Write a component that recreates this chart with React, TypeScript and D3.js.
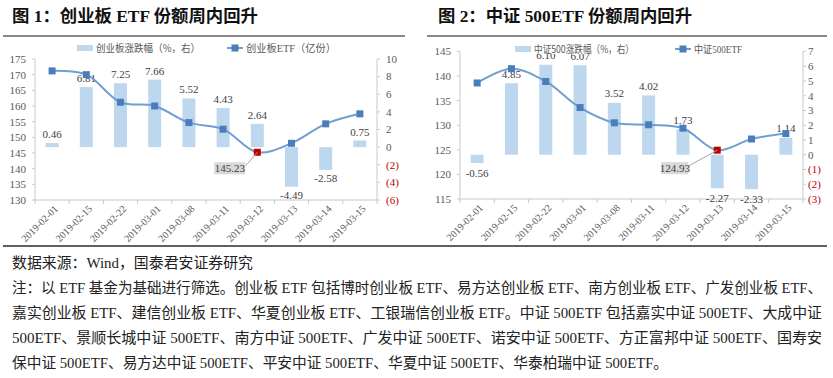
import React from "react";
import * as d3 from "d3";

const dates = [
  "2019-02-01", "2019-02-15", "2019-02-22", "2019-03-01", "2019-03-08",
  "2019-03-11", "2019-03-12", "2019-03-13", "2019-03-14", "2019-03-15",
];

// Chart 1: 创业板
const cybChange = [0.46, 6.81, 7.25, 7.66, 5.52, 4.43, 2.64, -4.49, -2.58, 0.75];
const cybShares = [171.2, 170.0, 161.2, 160.0, 154.7, 152.6, 145.23, 148.1, 154.3, 157.5];
const cybLeftTicks = [130, 135, 140, 145, 150, 155, 160, 165, 170, 175];
const cybRightTicks = [-6, -4, -2, 0, 2, 4, 6, 8, 10];

// Chart 2: 中证500
const zzChange = [-0.56, 4.85, 6.1, 6.07, 3.52, 4.02, 1.73, -2.27, -2.33, 1.14];
const zzShares = [138.6, 141.5, 138.9, 133.6, 130.5, 130.1, 129.4, 124.93, 127.2, 128.3];
const zzLeftTicks = [115, 120, 125, 130, 135, 140, 145];
const zzRightTicks = [-3, -2, -1, 0, 1, 2, 3, 4, 5, 6, 7];

const titles = ["图 1：创业板 ETF 份额周内回升", "图 2：中证 500ETF 份额周内回升"];
const legendBar = ["创业板涨跌幅（%，右）", "中证500涨跌幅（%，右）"];
const legendLine = ["创业板ETF（亿份）", "中证500ETF"];

const noteLines = [
  "数据来源：Wind，国泰君安证券研究",
  "注：以 ETF 基金为基础进行筛选。创业板 ETF 包括博时创业板 ETF、易方达创业板 ETF、南方创业板 ETF、广发创业板 ETF、",
  "嘉实创业板 ETF、建信创业板 ETF、华夏创业板 ETF、工银瑞信创业板 ETF。中证 500ETF 包括嘉实中证 500ETF、大成中证",
  "500ETF、景顺长城中证 500ETF、南方中证 500ETF、广发中证 500ETF、诺安中证 500ETF、方正富邦中证 500ETF、国寿安",
  "保中证 500ETF、易方达中证 500ETF、平安中证 500ETF、华夏中证 500ETF、华泰柏瑞中证 500ETF。",
];

const SERIF = "'Liberation Serif','Times New Roman',serif";
const MIX = "'Liberation Serif','Noto Sans CJK SC',serif";
const CJK = "'Noto Sans CJK SC','Liberation Sans',sans-serif";

const BAR = "#bdd7ee";
const LINE = "#6f9fd0";
const MARK = "#4a7ebb";
const HIL = "#c00000";
const AXIS = "#c8c8c8";
const TXT = "#595959";

type ChartProps = {
  left: number;
  right: number;
  top: number;
  bottom: number;
  leftDomain: [number, number];
  rightDomain: [number, number];
  leftTicks: number[];
  rightTicks: number[];
  bars: number[];
  line: number[];
  hi: number;
  rightLabelGap: number;
  posLabelGap: number;
  negLabelGap: number;
  callout: { dx: number; dy: number; w: number };
  legend: {
    y: number;
    barX: number;
    barTextLen: number;
    lineX: number;
    lineTextLen: number;
    barText: string;
    lineText: string;
    bg: [number, number];
  };
};

function Chart(p: ChartProps) {
  const x = d3.scaleBand<string>().domain(dates).range([p.left, p.right]);
  const yL = d3.scaleLinear().domain(p.leftDomain).range([p.bottom, p.top]);
  const yR = d3.scaleLinear().domain(p.rightDomain).range([p.bottom, p.top]);
  const cx = (i: number) => (x(dates[i]) as number) + x.bandwidth() / 2;
  const barW = 13;
  const path = d3
    .line<number>()
    .x((_, i) => cx(i))
    .y((v) => yL(v))
    .curve(d3.curveCatmullRom.alpha(0.5))(p.line) as string;
  const zero = yR(0);
  const hx = cx(p.hi);
  const hy = yL(p.line[p.hi]);
  const boxR = hx + p.callout.dx;
  const boxCy = hy + p.callout.dy;
  const L = p.legend;
  return (
    <g>
      {/* axes */}
      <line x1={p.left} x2={p.left} y1={p.top} y2={p.bottom} stroke={AXIS} />
      <line x1={p.right} x2={p.right} y1={p.top} y2={p.bottom} stroke={AXIS} />
      <line x1={p.left} x2={p.right} y1={p.bottom} y2={p.bottom} stroke={AXIS} />
      {dates.map((d, i) => (
        <line key={"xt" + i} x1={x(d)} x2={x(d)} y1={p.bottom} y2={p.bottom + 4} stroke={AXIS} />
      ))}
      <line x1={p.right} x2={p.right} y1={p.bottom} y2={p.bottom + 4} stroke={AXIS} />
      {p.leftTicks.map((t) => (
        <g key={"lt" + t}>
          <line x1={p.left - 3} x2={p.left} y1={yL(t)} y2={yL(t)} stroke={AXIS} />
          <text x={p.left - 9} y={yL(t)} dy="0.35em" textAnchor="end" fontFamily={SERIF} fontSize={11} fill={TXT}>
            {t}
          </text>
        </g>
      ))}
      {p.rightTicks.map((t) => (
        <g key={"rt" + t}>
          <line x1={p.right} x2={p.right + 3} y1={yR(t)} y2={yR(t)} stroke={AXIS} />
          <text
            x={p.right + p.rightLabelGap}
            y={yR(t)}
            dy="0.35em"
            textAnchor="start"
            fontFamily={SERIF}
            fontSize={11}
            fill={t < 0 ? HIL : TXT}
          >
            {t < 0 ? `(${-t})` : t}
          </text>
        </g>
      ))}
      {dates.map((d, i) => (
        <text
          key={"xl" + i}
          transform={`translate(${cx(i) + 4},${p.bottom + 7}) rotate(-45)`}
          textAnchor="end"
          dy="0.35em"
          fontFamily={SERIF}
          fontSize={10}
          fill={TXT}
        >
          {d}
        </text>
      ))}
      {/* bars */}
      {p.bars.map((v, i) => (
        <rect
          key={"b" + i}
          x={cx(i) - barW / 2}
          width={barW}
          y={Math.min(yR(v), zero)}
          height={Math.abs(yR(v) - zero)}
          fill={BAR}
        />
      ))}
      {p.bars.map((v, i) => (
        <text
          key={"bl" + i}
          x={cx(i)}
          y={v >= 0 ? yR(v) - p.posLabelGap : yR(v) + p.negLabelGap}
          textAnchor="middle"
          fontFamily={SERIF}
          fontSize={11}
          fill="#404040"
        >
          {v.toFixed(2)}
        </text>
      ))}
      {/* line */}
      <path d={path} fill="none" stroke={LINE} strokeWidth={2} />
      {p.line.map((v, i) => (
        <rect
          key={"m" + i}
          x={cx(i) - 3.5}
          y={yL(v) - 3.5}
          width={7}
          height={7}
          fill={i === p.hi ? HIL : MARK}
        />
      ))}
      {/* callout */}
      <line x1={boxR} y1={boxCy - 2} x2={hx} y2={hy} stroke="#a6a6a6" strokeWidth={1} />
      <rect x={boxR - p.callout.w} y={boxCy - 6} width={p.callout.w} height={12} fill="#d9d9d9" />
      <text x={boxR - p.callout.w / 2} y={boxCy} dy="0.35em" textAnchor="middle" fontFamily={SERIF} fontSize={11} fill="#404040">
        {p.line[p.hi].toFixed(2)}
      </text>
      {/* legend */}
      <rect x={L.bg[0]} y={L.y - 6} width={L.bg[1] - L.bg[0]} height={11} fill="#fff" />
      <rect x={L.barX} y={L.y - 3} width={16} height={6} fill={BAR} />
      <text
        x={L.barX + 19}
        y={L.y}
        dy="0.35em"
        fontFamily={CJK}
        fontSize={10.5}
        fill={TXT}
        textLength={L.barTextLen}
        lengthAdjust="spacingAndGlyphs"
      >
        {L.barText}
      </text>
      <line x1={L.lineX} x2={L.lineX + 16} y1={L.y} y2={L.y} stroke={LINE} strokeWidth={2} />
      <rect x={L.lineX + 8 - 3.5} y={L.y - 3.5} width={7} height={7} fill={MARK} />
      <text
        x={L.lineX + 19}
        y={L.y}
        dy="0.35em"
        fontFamily={MIX}
        fontSize={10.5}
        fill={TXT}
        textLength={L.lineTextLen}
        lengthAdjust="spacingAndGlyphs"
      >
        {L.lineText}
      </text>
    </g>
  );
}

export default function App() {
  const noteLens = [241, 810, 810, 810, 656];
  return (
    <svg width={833} height={378} style={{ position: "absolute", left: 0, top: 0, background: "#fff" }}>
      <rect width={833} height={378} fill="#fff" />
      {/* titles */}
      <text x={12} y={21.5} fontFamily={MIX} fontWeight={700} fontSize={17} fill="#111" textLength={246} lengthAdjust="spacingAndGlyphs">
        {titles[0]}
      </text>
      <text x={438} y={21.5} fontFamily={MIX} fontWeight={700} fontSize={17} fill="#111" textLength={254} lengthAdjust="spacingAndGlyphs">
        {titles[1]}
      </text>
      <line x1={3} x2={405} y1={36} y2={36} stroke="#606060" strokeWidth={1.5} />
      <line x1={427} x2={827} y1={36} y2={36} stroke="#606060" strokeWidth={1.5} />

      <Chart
        left={35}
        right={377}
        top={59}
        bottom={200}
        leftDomain={[130, 175]}
        rightDomain={[-6, 10]}
        leftTicks={cybLeftTicks}
        rightTicks={cybRightTicks}
        bars={cybChange}
        line={cybShares}
        hi={6}
        rightLabelGap={9}
        posLabelGap={5}
        negLabelGap={12.5}
        callout={{ dx: -12, dy: 16, w: 31 }}
        legend={{
          y: 48,
          barX: 77,
          barTextLen: 104,
          lineX: 227,
          lineTextLen: 90,
          barText: legendBar[0],
          lineText: legendLine[0],
          bg: [75, 75],
        }}
      />
      <Chart
        left={460}
        right={803}
        top={51.5}
        bottom={199}
        leftDomain={[115, 145]}
        rightDomain={[-3, 7]}
        leftTicks={zzLeftTicks}
        rightTicks={zzRightTicks}
        bars={zzChange}
        line={zzShares}
        hi={7}
        rightLabelGap={5}
        posLabelGap={5.5}
        negLabelGap={14}
        callout={{ dx: -29, dy: 18, w: 27 }}
        legend={{
          y: 49,
          barX: 515,
          barTextLen: 100,
          lineX: 675,
          lineTextLen: 48,
          barText: legendBar[1],
          lineText: legendLine[1],
          bg: [513, 636],
        }}
      />

      <line x1={3} x2={827} y1={246} y2={246} stroke="#606060" strokeWidth={2} />
      {noteLines.map((t, i) => (
        <text
          key={"n" + i}
          x={12}
          y={267.5 + i * 25}
          fontFamily={MIX}
          fontSize={15}
          fill="#222"
          textLength={noteLens[i]}
          lengthAdjust="spacingAndGlyphs"
        >
          {t}
        </text>
      ))}
    </svg>
  );
}
